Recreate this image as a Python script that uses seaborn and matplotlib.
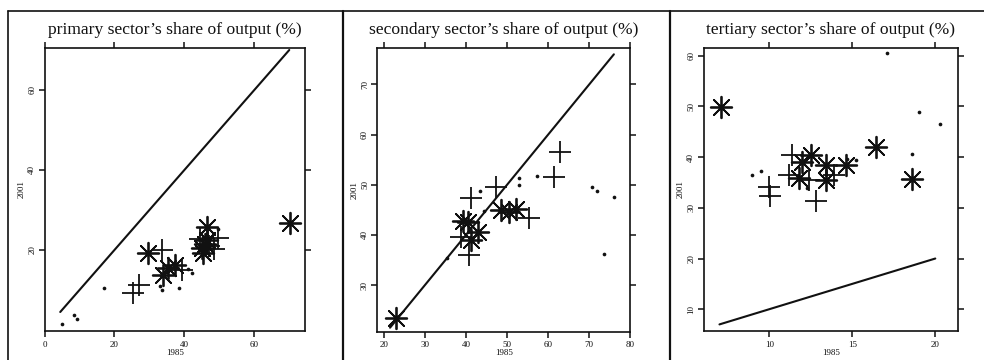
import matplotlib
matplotlib.use("Agg")
import matplotlib.pyplot as plt
from matplotlib.lines import Line2D
import seaborn as sns
import pandas as pd

sns.set_theme(style="white")
plt.rcParams['font.family'] = ['Liberation Serif', 'DejaVu Serif']

# ---------------- data ----------------
titles = ["primary sector\u2019s share of output (%)",
          "secondary sector\u2019s share of output (%)",
          "tertiary sector\u2019s share of output (%)"]

# primary sector
p1_ast_x = [29.7, 34.0, 35.4, 37.3, 46.4, 45.4, 45.8, 46.5, 45.0, 70.2]
p1_ast_y = [19.2, 13.8, 15.4, 16.2, 25.8, 19.2, 21.5, 22.5, 20.5, 26.7]
p1_plus_x = [25.4, 26.9, 33.5, 39.3, 44.5, 49.7, 48.4, 47.0]
p1_plus_y = [9.2, 11.3, 20.0, 15.0, 22.7, 22.9, 20.3, 21.0]
p1_dot_x = [4.9, 8.3, 9.4, 17.1, 32.9, 33.5, 38.5, 41.1, 42.3, 49.5]
p1_dot_y = [1.4, 3.8, 2.8, 10.4, 11.0, 10.0, 10.4, 15.2, 14.3, 25.2]
p1_line = [4.5, 70.0]

# secondary sector
p2_ast_x = [23.0, 39.2, 40.4, 42.9, 41.2, 48.5, 50.5, 52.1]
p2_ast_y = [23.4, 42.8, 42.6, 40.5, 39.0, 45.0, 44.6, 45.1]
p2_plus_x = [38.8, 40.8, 41.2, 47.3, 55.4, 61.4, 63.0]
p2_plus_y = [39.6, 36.0, 47.3, 49.6, 43.3, 51.6, 56.5]
p2_dot_x = [35.4, 43.4, 44.4, 52.8, 52.8, 57.4, 70.7, 71.8, 76.0, 73.5]
p2_dot_y = [35.3, 48.7, 44.8, 51.4, 49.9, 51.8, 49.5, 48.8, 47.6, 36.2]
p2_line = [21.5, 76.0]

# tertiary sector
p3_ast_x = [7.1, 12.0, 12.5, 11.8, 13.4, 13.4, 14.6, 16.4, 18.6]
p3_ast_y = [49.9, 39.0, 40.5, 35.9, 38.4, 35.5, 38.4, 42.1, 35.7]
p3_plus_x = [9.96, 10.06, 11.35, 11.2, 12.4, 12.8, 13.9]
p3_plus_y = [34.1, 32.3, 40.5, 36.4, 35.5, 31.3, 36.5]
p3_dot_x = [8.96, 9.5, 12.3, 14.7, 15.2, 17.1, 19.0, 18.6, 20.3]
p3_dot_y = [36.4, 37.2, 34.0, 39.7, 39.4, 60.5, 48.9, 40.6, 46.6]
p3_line = [7.0, 20.0]

x_ticks = [[0, 20, 40, 60], [20, 30, 40, 50, 60, 70, 80], [10, 15, 20]]
y_ticks = [[20, 40, 60], [30, 40, 50, 60, 70], [10, 20, 30, 40, 50, 60]]
x_lims = [(0.0, 74.5), (18.4, 80.0), (6.05, 21.35)]
y_lims = [(-0.25, 70.5), (20.7, 77.2), (5.7, 61.6)]
x_label = "1985"
y_label = "2001"

panels = [
    (p1_ast_x, p1_ast_y, p1_plus_x, p1_plus_y, p1_dot_x, p1_dot_y, p1_line),
    (p2_ast_x, p2_ast_y, p2_plus_x, p2_plus_y, p2_dot_x, p2_dot_y, p2_line),
    (p3_ast_x, p3_ast_y, p3_plus_x, p3_plus_y, p3_dot_x, p3_dot_y, p3_line),
]

# ---------------- layout ----------------
W, H = 984, 360
fig = plt.figure(figsize=(W / 100, H / 100), dpi=100)
fig.patch.set_facecolor("white")

# axes boxes in pixels: left, right, top, bottom
boxes = [(44.5, 305.0, 48.0, 331.0),
         (377.3, 630.3, 48.3, 331.7),
         (703.7, 957.7, 47.7, 331.0)]

ink = "#111111"
for i, (box, pdata) in enumerate(zip(boxes, panels)):
    l, r, t, b = box
    ax = fig.add_axes([l / W, 1 - b / H, (r - l) / W, (b - t) / H])
    ax.set_facecolor("white")
    ax_x, ax_y, pl_x, pl_y, d_x, d_y, line = pdata

    sns.lineplot(x=line, y=line, ax=ax, color=ink, linewidth=1.5)
    sns.scatterplot(x=d_x, y=d_y, ax=ax, marker="o", s=7, color=ink,
                    edgecolor=ink, linewidth=0)
    sns.scatterplot(x=pl_x, y=pl_y, ax=ax, marker="+", s=230, color=ink,
                    linewidth=1.3)
    sns.scatterplot(x=ax_x, y=ax_y, ax=ax, marker=(8, 2, 0), s=240,
                    color=ink, linewidth=1.3)

    ax.set_xlim(*x_lims[i])
    ax.set_ylim(*y_lims[i])
    ax.set_xticks(x_ticks[i])
    ax.set_yticks(y_ticks[i])
    for sp in ax.spines.values():
        sp.set_visible(True)
        sp.set_color(ink)
        sp.set_linewidth(1.2)
    ax.tick_params(direction="out", length=4, width=1.1, colors=ink,
                   top=True, right=True, bottom=True, left=True,
                   labeltop=False, labelright=False, labelsize=6.5)
    ax.tick_params(axis="x", pad=3)
    ax.tick_params(axis="y", pad=2)
    for lab in ax.get_yticklabels():
        lab.set_rotation(90)
        lab.set_va("center")
    ax.set_xlabel(x_label, fontsize=6.5, color=ink, labelpad=0)
    ax.set_ylabel(y_label, fontsize=6.5, color=ink, labelpad=2)
    ax.grid(False)

    cx = (l + r) / 2
    fig.text(cx / W, 1 - 30 / H, titles[i], ha="center", va="center",
             fontsize=12.6, color=ink)

# panel frame lines
fig.add_artist(Line2D([8 / W, 1.0], [1 - 11 / H, 1 - 11 / H],
                      transform=fig.transFigure, color=ink, linewidth=1.2))
for xb in [8, 343, 670]:
    fig.add_artist(Line2D([xb / W, xb / W], [0, 1 - 11 / H],
                          transform=fig.transFigure, color=ink,
                          linewidth=1.6 if xb != 8 else 1.2))

fig.savefig("out.png", dpi=100, facecolor="white")
